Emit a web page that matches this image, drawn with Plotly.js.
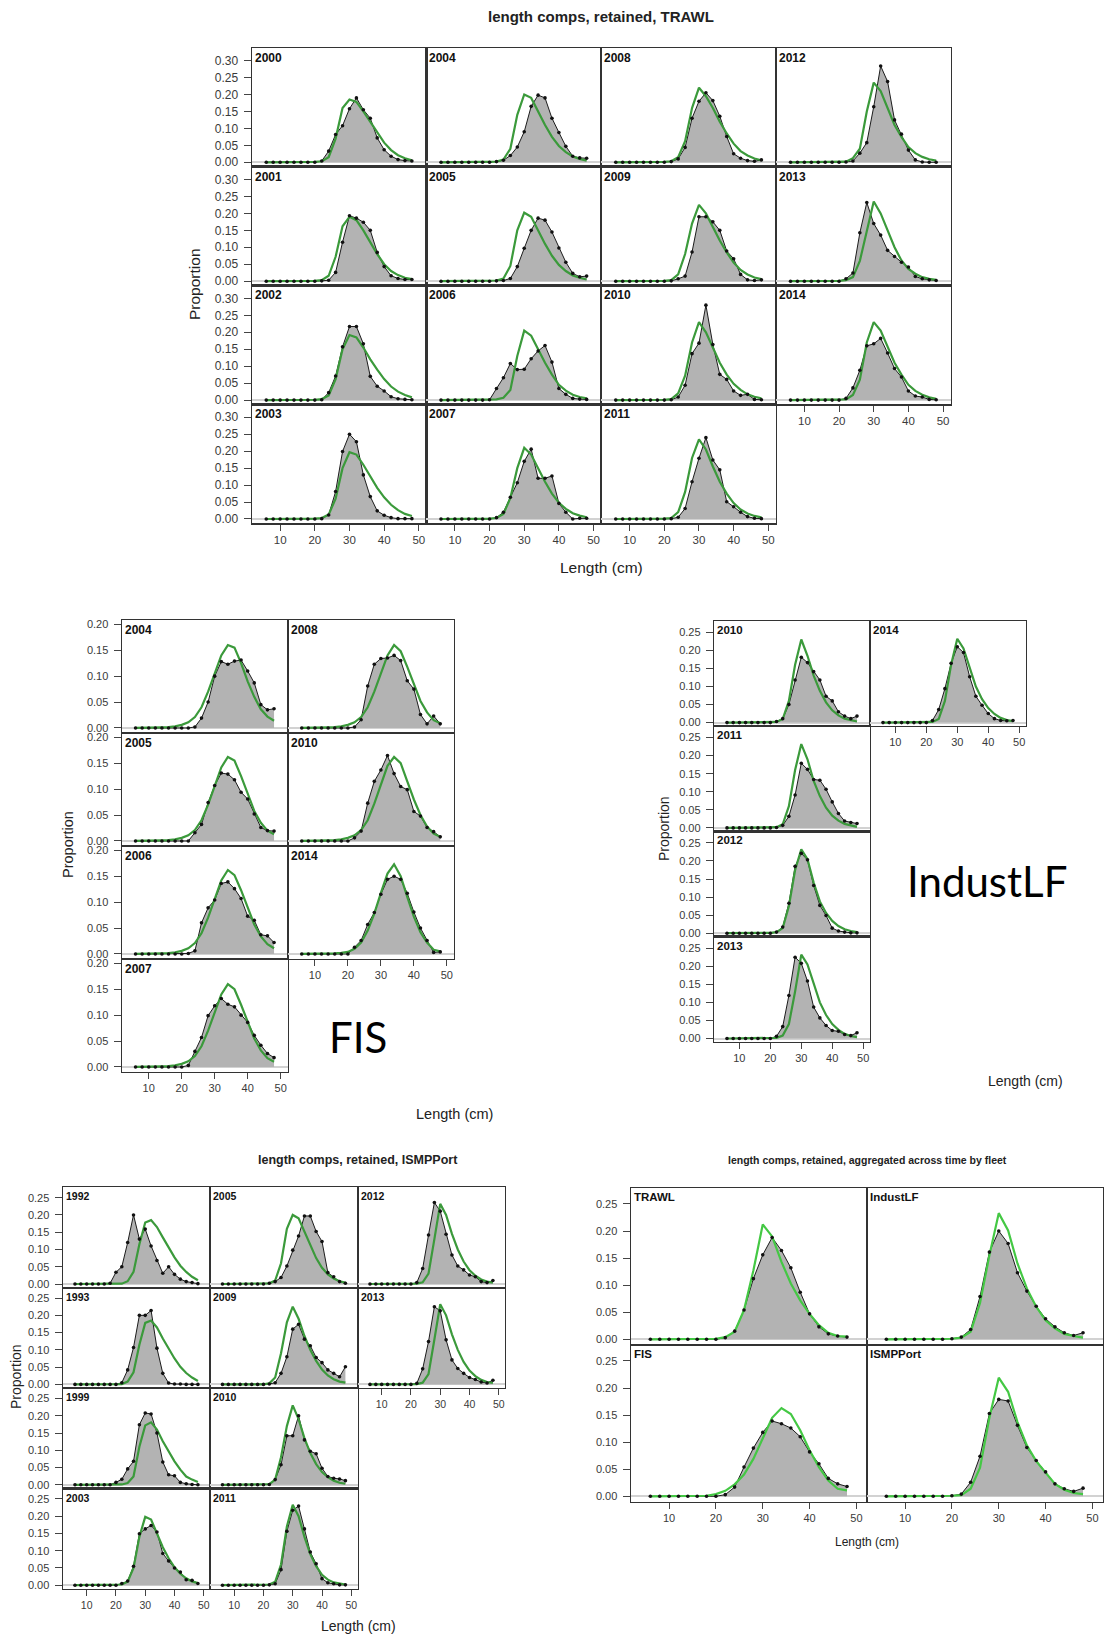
<!DOCTYPE html>
<html>
<head>
<meta charset="utf-8">
<script src="https://cdn.plot.ly/plotly-3.0.1.min.js"></script>
<style>
  html, body { margin: 0; padding: 0; background: #ffffff; }
  #chart { width: 1110px; height: 1636px; }
</style>
</head>
<body>
<div id="chart"></div>
<script>
// Length bins (cm), shared by every panel
const lengthBins = [6,8,10,12,14,16,18,20,22,24,26,28,30,32,34,36,38,40,42,44,46,48];

// ---------- TRAWL ----------
const trawlYears = [2000,2001,2002,2003,2004,2005,2006,2007,2008,2009,2010,2011,2012,2013,2014];
const trawlObs = [
  [0,0,0,0,0,0,0,0, 0.004,0.033,0.082,0.108,0.158,0.190,0.155,0.130,0.072,0.037,0.018,0.008,0.005,0.004],
  [0,0,0,0,0,0,0,0, 0.001,0.003,0.026,0.115,0.193,0.186,0.174,0.150,0.085,0.043,0.016,0.008,0.005,0.005],
  [0,0,0,0,0,0,0,0, 0.001,0.022,0.071,0.157,0.217,0.217,0.166,0.070,0.041,0.027,0.010,0.004,0.002,0.001],
  [0,0,0,0,0,0,0,0, 0.001,0.012,0.081,0.199,0.250,0.228,0.130,0.066,0.024,0.011,0.004,0.001,0.001,0.001],
  [0,0,0,0,0,0,0,0, 0.002,0.006,0.020,0.045,0.090,0.165,0.198,0.190,0.130,0.088,0.047,0.018,0.013,0.012],
  [0,0,0,0,0,0,0,0, 0.001,0.002,0.008,0.043,0.097,0.150,0.186,0.180,0.145,0.098,0.056,0.023,0.013,0.015],
  [0,0,0,0,0,0,0,0.001, 0.034,0.066,0.108,0.090,0.091,0.122,0.145,0.161,0.112,0.034,0.017,0.005,0.003,0.002],
  [0,0,0,0,0,0,0,0, 0.004,0.020,0.064,0.107,0.170,0.206,0.120,0.120,0.127,0.046,0.020,0.000,0.002,0.002],
  [0,0,0,0,0,0,0,0, 0.002,0.010,0.044,0.130,0.180,0.205,0.182,0.136,0.076,0.025,0.012,0.005,0.003,0.007],
  [0,0,0,0,0,0,0,0, 0.001,0.007,0.015,0.086,0.190,0.190,0.175,0.150,0.089,0.066,0.020,0.004,0.002,0.004],
  [0,0,0,0,0,0,0,0, 0.001,0.009,0.044,0.137,0.168,0.280,0.164,0.076,0.061,0.027,0.014,0.017,0.002,0.001],
  [0,0,0,0,0,0,0,0, 0.001,0.005,0.031,0.110,0.179,0.240,0.174,0.145,0.051,0.036,0.020,0.007,0.002,0.001],
  [0,0,0,0,0,0,0,0, 0.001,0.004,0.027,0.058,0.164,0.284,0.238,0.125,0.083,0.036,0.007,0.001,0.000,0.000],
  [0,0,0,0,0,0,0,0, 0.007,0.024,0.143,0.232,0.170,0.136,0.091,0.073,0.056,0.042,0.014,0.007,0.004,0.002],
  [0,0,0,0,0,0,0,0, 0.005,0.036,0.088,0.160,0.166,0.182,0.139,0.093,0.068,0.027,0.012,0.009,0.002,0.001]
];
const trawlExp = [
  [0,0,0,0,0,0,0,0.001, 0.003,0.015,0.070,0.160,0.185,0.178,0.150,0.120,0.088,0.058,0.036,0.021,0.012,0.006],
  [0,0,0,0,0,0,0,0.001, 0.003,0.016,0.072,0.162,0.190,0.180,0.150,0.115,0.080,0.050,0.030,0.018,0.010,0.006],
  [0,0,0,0,0,0,0,0.001, 0.003,0.014,0.062,0.150,0.192,0.185,0.155,0.120,0.090,0.062,0.040,0.025,0.015,0.008],
  [0,0,0,0,0,0,0,0.001, 0.003,0.013,0.060,0.150,0.197,0.190,0.160,0.125,0.092,0.064,0.042,0.026,0.015,0.009],
  [0,0,0,0,0,0,0,0.001, 0.002,0.008,0.040,0.140,0.200,0.190,0.150,0.110,0.075,0.048,0.030,0.017,0.010,0.005],
  [0,0,0,0,0,0,0,0.001, 0.002,0.008,0.045,0.150,0.202,0.190,0.150,0.110,0.075,0.048,0.030,0.017,0.010,0.005],
  [0,0,0,0,0,0,0,0.001, 0.002,0.007,0.030,0.130,0.205,0.190,0.150,0.110,0.075,0.045,0.028,0.016,0.009,0.005],
  [0,0,0,0,0,0,0,0.001, 0.003,0.015,0.062,0.150,0.210,0.190,0.150,0.110,0.075,0.048,0.030,0.017,0.010,0.005],
  [0,0,0,0,0,0,0,0.001, 0.003,0.015,0.062,0.160,0.220,0.195,0.160,0.120,0.085,0.055,0.033,0.020,0.011,0.006],
  [0,0,0,0,0,0,0,0.001, 0.003,0.020,0.080,0.170,0.225,0.200,0.160,0.120,0.085,0.055,0.033,0.020,0.011,0.006],
  [0,0,0,0,0,0,0,0.001, 0.003,0.020,0.072,0.170,0.230,0.200,0.155,0.110,0.075,0.048,0.030,0.017,0.010,0.005],
  [0,0,0,0,0,0,0,0.001, 0.003,0.020,0.080,0.180,0.235,0.205,0.155,0.110,0.075,0.047,0.028,0.016,0.009,0.005],
  [0,0,0,0,0,0,0,0.001, 0.002,0.012,0.040,0.150,0.235,0.210,0.160,0.110,0.075,0.045,0.027,0.016,0.009,0.005],
  [0,0,0,0,0,0,0,0.001, 0.003,0.012,0.060,0.150,0.235,0.200,0.150,0.100,0.061,0.036,0.022,0.012,0.007,0.004],
  [0,0,0,0,0,0,0,0.001, 0.002,0.015,0.060,0.170,0.230,0.205,0.155,0.110,0.075,0.045,0.027,0.016,0.008,0.004]
];

// ---------- FIS ----------
const fisYears = [2004,2005,2006,2007,2008,2010,2014];
const fisObs = [
  [0,0,0,0,0,0,0,0, 0.000,0.002,0.019,0.050,0.100,0.128,0.123,0.129,0.131,0.110,0.087,0.045,0.035,0.037],
  [0,0,0,0,0,0,0,0, 0.000,0.016,0.032,0.074,0.107,0.131,0.129,0.118,0.094,0.081,0.052,0.026,0.020,0.019],
  [0,0,0,0,0,0,0,0, 0.001,0.006,0.060,0.089,0.104,0.136,0.139,0.126,0.107,0.073,0.065,0.037,0.035,0.022],
  [0,0,0,0,0,0,0,0, 0.003,0.030,0.057,0.099,0.118,0.132,0.121,0.116,0.100,0.086,0.061,0.042,0.026,0.018],
  [0,0,0,0,0,0,0,0, 0.002,0.016,0.081,0.123,0.134,0.135,0.140,0.130,0.091,0.075,0.026,0.008,0.023,0.008],
  [0,0,0,0,0,0,0,0, 0.006,0.019,0.073,0.115,0.137,0.165,0.130,0.105,0.099,0.057,0.048,0.026,0.018,0.008],
  [0,0,0,0,0,0,0,0, 0.013,0.026,0.057,0.080,0.115,0.144,0.150,0.144,0.117,0.081,0.050,0.026,0.003,0.004]
];
const fisExp = [
  [0,0,0,0.0005,0.001,0.0015,0.003,0.006, 0.011,0.021,0.040,0.070,0.105,0.140,0.160,0.155,0.125,0.090,0.060,0.036,0.022,0.014],
  [0,0,0,0.0005,0.001,0.0015,0.003,0.006, 0.011,0.021,0.040,0.070,0.105,0.142,0.162,0.155,0.125,0.090,0.058,0.035,0.020,0.013],
  [0,0,0,0.0005,0.001,0.0015,0.003,0.006, 0.011,0.021,0.040,0.070,0.105,0.142,0.162,0.152,0.123,0.088,0.057,0.034,0.019,0.011],
  [0,0,0,0.0005,0.001,0.0015,0.003,0.006, 0.011,0.021,0.040,0.070,0.105,0.140,0.160,0.150,0.120,0.086,0.055,0.032,0.017,0.010],
  [0,0,0,0.0005,0.001,0.0015,0.003,0.006, 0.011,0.021,0.040,0.070,0.105,0.140,0.160,0.148,0.118,0.085,0.052,0.030,0.015,0.009],
  [0,0,0,0.0005,0.001,0.0015,0.003,0.006, 0.011,0.021,0.040,0.072,0.108,0.145,0.162,0.150,0.115,0.080,0.050,0.028,0.014,0.008],
  [0,0,0,0,0,0.001,0.002,0.004, 0.010,0.022,0.045,0.078,0.118,0.155,0.173,0.150,0.110,0.072,0.042,0.022,0.008,0.005]
];

// ---------- IndustLF ----------
const industYears = [2010,2011,2012,2013,2014];
const industObs = [
  [0,0,0,0,0,0,0,0, 0.003,0.011,0.050,0.118,0.181,0.166,0.141,0.118,0.073,0.060,0.030,0.018,0.011,0.018],
  [0,0,0,0,0,0,0,0, 0.001,0.007,0.032,0.091,0.179,0.162,0.134,0.132,0.107,0.072,0.040,0.019,0.015,0.012],
  [0,0,0,0,0,0,0,0, 0.003,0.017,0.083,0.185,0.221,0.203,0.132,0.077,0.049,0.014,0.006,0.003,0.001,0.001],
  [0,0,0,0,0,0,0,0, 0.006,0.033,0.119,0.225,0.208,0.159,0.087,0.057,0.036,0.022,0.020,0.011,0.008,0.016],
  [0,0,0,0,0,0,0,0, 0.006,0.036,0.094,0.164,0.210,0.194,0.127,0.073,0.048,0.025,0.011,0.006,0.005,0.006]
];
const industExp = [
  [0,0,0,0,0,0,0,0.001, 0.002,0.010,0.060,0.160,0.230,0.185,0.130,0.088,0.056,0.034,0.020,0.011,0.006,0.003],
  [0,0,0,0,0,0,0,0.001, 0.002,0.010,0.060,0.160,0.232,0.190,0.130,0.088,0.056,0.034,0.020,0.011,0.006,0.003],
  [0,0,0,0,0,0,0,0.001, 0.003,0.014,0.075,0.175,0.232,0.205,0.140,0.088,0.056,0.034,0.020,0.011,0.006,0.003],
  [0,0,0,0,0,0,0,0.001, 0.002,0.008,0.040,0.130,0.232,0.205,0.150,0.100,0.065,0.040,0.024,0.013,0.007,0.004],
  [0,0,0,0,0,0,0,0.001, 0.002,0.010,0.060,0.160,0.232,0.205,0.150,0.100,0.065,0.040,0.024,0.013,0.007,0.004]
];

// ---------- ISMPPort ----------
const ismpYears = [1992,1993,1999,2003,2005,2009,2010,2011,2012,2013];
const ismpObs = [
  [0,0,0,0,0,0,0.002,0.034, 0.050,0.120,0.200,0.130,0.159,0.110,0.068,0.031,0.050,0.028,0.014,0.007,0.004,0.001],
  [0,0,0,0,0,0,0,0, 0.005,0.042,0.107,0.200,0.200,0.214,0.105,0.032,0.004,0.001,0.001,0.000,0.000,0.000],
  [0,0,0,0,0,0,0,0.007, 0.016,0.046,0.068,0.174,0.208,0.205,0.150,0.066,0.029,0.026,0.007,0.003,0.001,0.000],
  [0,0,0,0,0,0,0,0, 0.005,0.012,0.055,0.149,0.163,0.173,0.154,0.092,0.070,0.050,0.038,0.016,0.014,0.005],
  [0,0,0,0,0,0,0,0, 0.002,0.007,0.019,0.052,0.098,0.139,0.197,0.197,0.152,0.123,0.033,0.021,0.007,0.002],
  [0,0,0,0,0,0,0,0, 0.001,0.005,0.032,0.080,0.160,0.174,0.131,0.112,0.078,0.063,0.042,0.032,0.022,0.051],
  [0,0,0,0,0,0,0,0, 0.001,0.015,0.058,0.142,0.142,0.200,0.130,0.097,0.090,0.048,0.024,0.019,0.017,0.012],
  [0,0,0,0,0,0,0,0, 0.001,0.004,0.045,0.156,0.217,0.229,0.163,0.096,0.062,0.019,0.007,0.004,0.001,0.001],
  [0,0,0,0,0,0,0,0, 0.004,0.045,0.142,0.236,0.211,0.144,0.084,0.052,0.041,0.026,0.021,0.007,0.004,0.010],
  [0,0,0,0,0,0,0,0, 0.003,0.045,0.124,0.225,0.213,0.129,0.071,0.046,0.032,0.020,0.014,0.007,0.004,0.012]
];
const ismpExp = [
  [0,0,0,0,0,0,0,0, 0.001,0.008,0.035,0.115,0.178,0.185,0.165,0.135,0.105,0.077,0.053,0.035,0.021,0.011],
  [0,0,0,0,0,0,0,0, 0.001,0.008,0.035,0.115,0.178,0.185,0.165,0.133,0.103,0.075,0.051,0.033,0.020,0.010],
  [0,0,0,0,0,0,0,0, 0.001,0.005,0.024,0.110,0.172,0.181,0.160,0.126,0.097,0.068,0.044,0.024,0.015,0.008],
  [0,0,0,0,0,0,0,0, 0.002,0.010,0.050,0.140,0.198,0.190,0.150,0.110,0.078,0.052,0.033,0.020,0.011,0.006],
  [0,0,0,0,0,0,0,0, 0.002,0.010,0.060,0.160,0.200,0.190,0.150,0.110,0.075,0.047,0.028,0.016,0.008,0.004],
  [0,0,0,0,0,0,0,0, 0.003,0.020,0.090,0.180,0.225,0.190,0.140,0.100,0.068,0.043,0.026,0.015,0.008,0.005],
  [0,0,0,0,0,0,0,0, 0.002,0.015,0.080,0.170,0.230,0.190,0.135,0.092,0.060,0.037,0.022,0.012,0.006,0.003],
  [0,0,0,0,0,0,0,0, 0.002,0.010,0.060,0.170,0.233,0.200,0.140,0.090,0.055,0.030,0.016,0.008,0.004,0.002],
  [0,0,0,0,0,0,0,0, 0.001,0.005,0.030,0.130,0.232,0.200,0.145,0.100,0.065,0.040,0.024,0.013,0.007,0.004],
  [0,0,0,0,0,0,0,0, 0.001,0.005,0.030,0.130,0.232,0.200,0.145,0.100,0.065,0.040,0.024,0.013,0.007,0.004]
];

// ---------- Aggregated across time by fleet ----------
const aggFleets = ['TRAWL','FIS','IndustLF','ISMPPort'];
const aggObs = [
  [0,0,0,0,0,0,0,0, 0.003,0.015,0.054,0.112,0.156,0.188,0.164,0.132,0.087,0.047,0.023,0.010,0.006,0.004],
  [0,0,0,0,0,0,0,0, 0.003,0.017,0.054,0.089,0.118,0.139,0.134,0.126,0.110,0.082,0.060,0.033,0.023,0.018],
  [0,0,0,0,0,0,0,0.001, 0.004,0.018,0.079,0.161,0.200,0.177,0.123,0.089,0.061,0.038,0.023,0.012,0.007,0.012],
  [0,0,0,0,0,0,0,0.001, 0.004,0.026,0.074,0.153,0.179,0.176,0.131,0.090,0.066,0.045,0.023,0.014,0.009,0.015]
];
const aggExp = [
  [0,0,0,0,0,0,0,0.001, 0.004,0.014,0.054,0.127,0.212,0.190,0.143,0.103,0.072,0.047,0.026,0.012,0.006,0.005],
  [0,0,0,0,0,0.001,0.001,0.004, 0.010,0.022,0.040,0.069,0.108,0.145,0.163,0.152,0.122,0.085,0.054,0.029,0.014,0.011],
  [0,0,0,0,0,0,0,0.001, 0.003,0.014,0.067,0.155,0.233,0.201,0.140,0.094,0.060,0.035,0.020,0.010,0.006,0.003],
  [0,0,0,0,0,0,0,0.001, 0.002,0.014,0.053,0.145,0.219,0.193,0.137,0.094,0.065,0.043,0.023,0.012,0.006,0.004]
];

// ---------- page geometry (pixels) ----------
const W = 1110, H = 1636;
const FONT = 'Liberation Sans, Arial, Helvetica, sans-serif';
const fx = px => px / W;
const fy = py => 1 - py / H;

const groups = [
  { labels: trawlYears, obs: trawlObs, exp: trawlExp,
    columns: [[2000,2001,2002,2003],[2004,2005,2006,2007],[2008,2009,2010,2011],[2012,2013,2014]],
    x0: 251.7, y0: 47.7, colW: 174.75, rowH: 118.9,
    yRange: [-0.0127, 0.338], yTicks: [0,0.05,0.10,0.15,0.20,0.25,0.30],
    tickSize: 12, xTickSize: 11.5, labelSize: 12, green: '#3b9a3b' },
  { labels: fisYears, obs: fisObs, exp: fisExp,
    columns: [[2004,2005,2006,2007],[2008,2010,2014]],
    x0: 121.7, y0: 620, colW: 166.2, rowH: 113,
    yRange: [-0.0097, 0.2083], yTicks: [0,0.05,0.10,0.15,0.20],
    tickSize: 11, xTickSize: 11, labelSize: 12, green: '#3b9a3b' },
  { labels: industYears, obs: industObs, exp: industExp,
    columns: [[2010,2011,2012,2013],[2014]],
    x0: 714, y0: 620.7, colW: 156, rowH: 105.3,
    yRange: [-0.0094, 0.282], yTicks: [0,0.05,0.10,0.15,0.20,0.25],
    tickSize: 11, xTickSize: 11, labelSize: 11.5, green: '#3b9a3b' },
  { labels: ismpYears, obs: ismpObs, exp: ismpExp,
    columns: [[1992,1993,1999,2003],[2005,2009,2010,2011],[2012,2013]],
    x0: 62.7, y0: 1187.3, colW: 147.5, rowH: 100.4,
    yRange: [-0.0107, 0.280], yTicks: [0,0.05,0.10,0.15,0.20,0.25],
    tickSize: 11, xTickSize: 10.5, labelSize: 10.5, green: '#3b9a3b' },
  { labels: aggFleets, obs: aggObs, exp: aggExp,
    columns: [['TRAWL','FIS'],['IndustLF','ISMPPort']],
    x0: 630.7, y0: 1187.7, colW: 236, rowH: 157,
    yRange: [-0.0100, 0.280], yTicks: [0,0.05,0.10,0.15,0.20,0.25],
    tickSize: 11, xTickSize: 11, labelSize: 11.5, green: '#44c844' }
];

const layout = {
  width: W, height: H,
  margin: { l: 0, r: 0, t: 0, b: 0 },
  paper_bgcolor: '#ffffff',
  plot_bgcolor: 'rgba(0,0,0,0)',
  showlegend: false,
  font: { family: FONT, color: '#333333' },
  annotations: []
};
const traces = [];
let axisCount = 0;

groups.forEach(g => {
  g.columns.forEach((colLabels, c) => {
    colLabels.forEach((label, r) => {
      axisCount++;
      const n = axisCount;
      const xName = n === 1 ? 'xaxis' : 'xaxis' + n;
      const yName = n === 1 ? 'yaxis' : 'yaxis' + n;
      const xRef = n === 1 ? 'x' : 'x' + n;
      const yRef = n === 1 ? 'y' : 'y' + n;
      const idx = g.labels.indexOf(label);
      const left = g.x0 + c * g.colW, right = left + g.colW;
      const top = g.y0 + r * g.rowH, bottom = top + g.rowH;
      const showX = r === colLabels.length - 1;
      const showY = c === 0;

      layout[xName] = {
        domain: [fx(left), fx(right)], anchor: yRef,
        range: [1.8, 52.2], fixedrange: true,
        showline: true, mirror: true, linecolor: '#333333', linewidth: 1.2,
        showgrid: false, zeroline: false,
        tickvals: [10,20,30,40,50],
        ticks: showX ? 'outside' : '', ticklen: 6, tickwidth: 1, tickcolor: '#444444',
        showticklabels: showX,
        tickfont: { family: FONT, size: g.xTickSize, color: '#3a3a3a' }
      };
      layout[yName] = {
        domain: [fy(bottom), fy(top)], anchor: xRef,
        range: g.yRange, fixedrange: true,
        showline: true, mirror: true, linecolor: '#333333', linewidth: 1.2,
        showgrid: false,
        zeroline: true, zerolinecolor: '#d2d2d2', zerolinewidth: 2,
        tickvals: g.yTicks, tickformat: '.2f',
        ticks: showY ? 'outside' : '', ticklen: 7, tickwidth: 1, tickcolor: '#444444',
        showticklabels: showY, ticklabelstandoff: 3,
        tickfont: { family: FONT, size: g.tickSize, color: '#3a3a3a' }
      };

      // observed proportions: shaded area with outline
      traces.push({
        type: 'scatter', mode: 'lines', x: lengthBins, y: g.obs[idx],
        xaxis: xRef, yaxis: yRef, fill: 'tozeroy', fillcolor: '#b3b3b3',
        line: { color: '#1c1c1c', width: 1 }, hoverinfo: 'skip'
      });
      // expected proportions
      traces.push({
        type: 'scatter', mode: 'lines', x: lengthBins, y: g.exp[idx],
        xaxis: xRef, yaxis: yRef,
        line: { color: g.green, width: 2.2 }, hoverinfo: 'skip'
      });
      // observed points
      traces.push({
        type: 'scatter', mode: 'markers', x: lengthBins, y: g.obs[idx],
        xaxis: xRef, yaxis: yRef,
        marker: { color: '#111111', size: 3.6 }, hoverinfo: 'skip'
      });

      // panel label
      layout.annotations.push({
        xref: xRef + ' domain', yref: yRef + ' domain', x: 0, y: 1,
        xanchor: 'left', yanchor: 'top', xshift: 1, yshift: -1,
        showarrow: false, text: '<b>' + label + '</b>',
        font: { family: FONT, size: g.labelSize, color: '#111111' }
      });
    });
  });
});

// Titles and axis labels placed in page coordinates
function pageText(text, x, y, size, opts) {
  layout.annotations.push(Object.assign({
    xref: 'paper', yref: 'paper', x: fx(x), y: fy(y),
    xanchor: 'center', yanchor: 'middle', showarrow: false, text: text,
    font: { family: FONT, size: size, color: '#222222' }
  }, opts || {}));
}

pageText('<b>length comps, retained, TRAWL</b>', 601, 16, 15);
pageText('Length (cm)', 601, 568, 15.5);
pageText('Proportion', 195, 284, 15.5, { textangle: -90 });

pageText('Proportion', 68, 845, 14.5, { textangle: -90 });
pageText('Length (cm)', 454, 1114, 14.5);
pageText('FIS', 358, 1037, 42, { font: { family: 'Lato, Open Sans, sans-serif', size: 42, color: '#000000' } });

pageText('Proportion', 664, 829, 14, { textangle: -90 });
pageText('Length (cm)', 1025, 1081, 14);
pageText('IndustLF', 987, 881, 42, { font: { family: 'Lato, Open Sans, sans-serif', size: 42, color: '#000000' } });

pageText('<b>length comps, retained, ISMPPort</b>', 358, 1160, 12.5);
pageText('Proportion', 16, 1377, 14, { textangle: -90 });
pageText('Length (cm)', 358, 1626, 14);

pageText('<b>length comps, retained, aggregated across time by fleet</b>', 867, 1160, 10.5);
pageText('Length (cm)', 867, 1542, 12);

Plotly.newPlot('chart', traces, layout, { staticPlot: true, displayModeBar: false });
</script>
</body>
</html>
